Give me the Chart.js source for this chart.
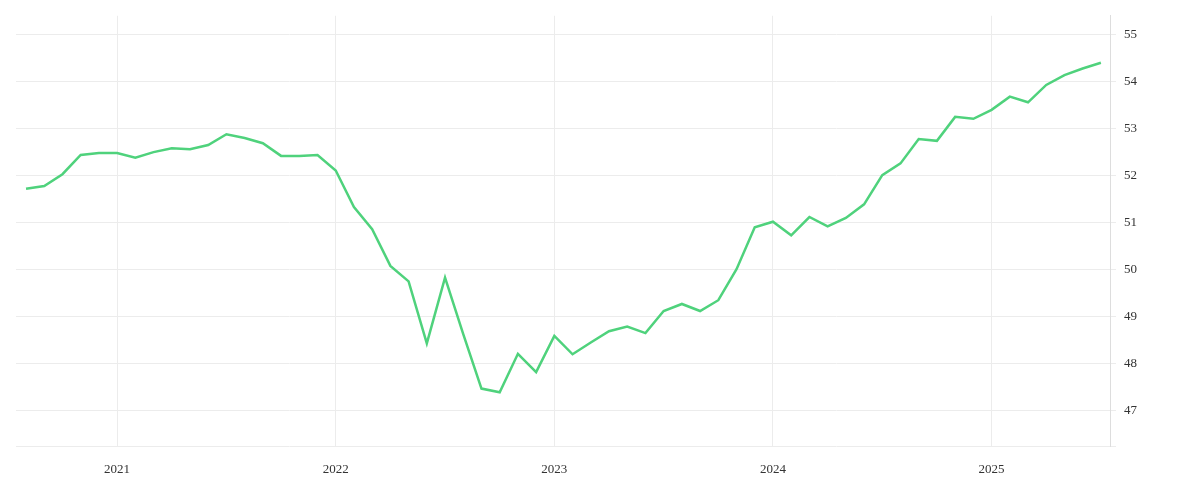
<!DOCTYPE html>
<html>
<head>
<meta charset="utf-8">
<script src="https://cdn.jsdelivr.net/npm/chart.js@4"></script>
<style>
  html, body { margin: 0; padding: 0; background: #fff; }
  #wrap { width: 1200px; height: 500px; }
</style>
</head>
<body>
<div id="wrap"><canvas id="c"></canvas></div>
<script>
// monthly, Aug 2020 .. Jul 2025
const startYear = 2020, startMonth = 7; // 0-based, August
const values = [
  51.72, 51.78, 52.03, 52.44, 52.48,
  52.48, 52.38, 52.50, 52.58, 52.56, 52.65, 52.88, 52.80, 52.69, 52.42, 52.42, 52.44,
  52.11, 51.33, 50.86, 50.08, 49.75, 48.43, 49.83, 48.63, 47.47, 47.39, 48.21, 47.82,
  48.59, 48.20, 48.45, 48.69, 48.79, 48.65, 49.12, 49.27, 49.12, 49.35, 50.01, 50.90,
  51.02, 50.73, 51.12, 50.92, 51.10, 51.39, 52.01, 52.26, 52.78, 52.74, 53.25, 53.21,
  53.40, 53.68, 53.56, 53.93, 54.14, 54.28, 54.40
];
const yearTicks = [2021, 2022, 2023, 2024, 2025];
const yTicks = [47, 48, 49, 50, 51, 52, 53, 54, 55];

const points = values.map((v, i) => ({ x: i, y: v }));
const yearIndex = y => (y - startYear) * 12 - startMonth;
const font = { family: "'Liberation Serif', 'DejaVu Serif', serif", size: 13 };

new Chart(document.getElementById("c"), {
  type: "line",
  data: {
    datasets: [{
      data: points,
      borderColor: "#4fd27c",
      borderWidth: 2.5,
      pointRadius: 0,
      tension: 0,
      fill: false
    }]
  },
  options: {
    responsive: true,
    maintainAspectRatio: false,
    animation: false,
    layout: { padding: { left: 16, right: 55, top: 10, bottom: 8 } },
    plugins: { legend: { display: false }, tooltip: { enabled: false } },
    scales: {
      x: {
        type: "linear",
        min: -0.55,
        max: 59.5,
        afterBuildTicks: axis => {
          axis.ticks = yearTicks.map(y => ({ value: yearIndex(y) }));
        },
        ticks: {
          color: "#333",
          font: font,
          padding: 15,
          maxRotation: 0,
          callback: v => String(startYear + Math.floor((v + startMonth) / 12))
        },
        grid: { color: "#ececec", drawTicks: false },
        border: { display: false }
      },
      y: {
        position: "right",
        min: 46.24,
        max: 55.4,
        afterBuildTicks: axis => {
          axis.ticks = [{ value: 46.24 }].concat(yTicks.map(v => ({ value: v })));
        },
        ticks: {
          color: "#333",
          font: font,
          padding: 8,
          callback: v => Number.isInteger(v) ? String(v) : ""
        },
        grid: { color: "#ececec", drawTicks: true, tickLength: 6 },
        border: { display: true, color: "#dddddd" }
      }
    }
  }
});
</script>
</body>
</html>
